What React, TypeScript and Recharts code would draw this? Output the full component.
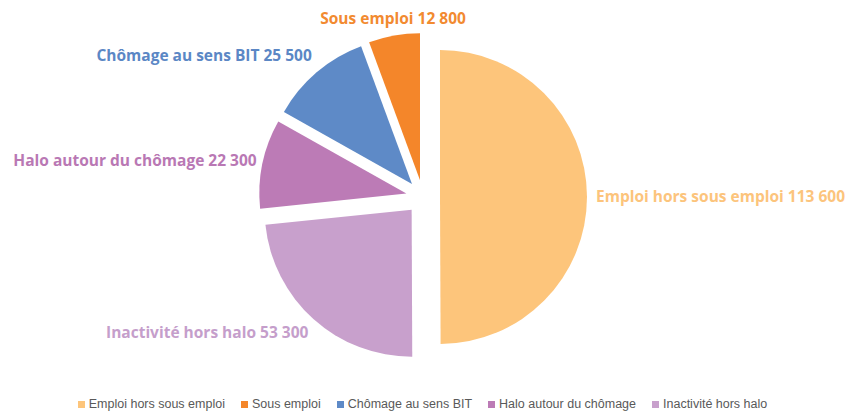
import React from 'react';
import { PieChart, Pie, Cell, Legend } from 'recharts';

// categories, values and colours
const names = ['Emploi hors sous emploi', 'Sous emploi', 'Chômage au sens BIT', 'Halo autour du chômage', 'Inactivité hors halo'];
const values = [113600, 12800, 25500, 22300, 53300];
const colors = ['#FDC57B', '#F4862A', '#5E8AC7', '#BC7BB6', '#C8A0CC'];
const labelColors = ['#FCC47C', '#F28A30', '#5B87C5', '#B978B4', '#C59ECB'];

const data = names.map((name, i) => ({ name, value: values[i] }));
const total = values.reduce((a, b) => a + b, 0);

const WIDTH = 845;
const HEIGHT = 412;
const CX = 423;
const CY = 197;
const RADIUS = 147;
const EXPLODE = 17;
const RADIAN = Math.PI / 180;

// small nudges for the data labels (Excel "best fit" placement)
const labelNudge = [[-3, -1], [1, 0], [3, -8], [6, -1], [3, 4]];

// first slice ends at 12 o'clock, the rest go on counter-clockwise
const START = 90 - (360 * values[0]) / total;

function midAngleOf(k: number) {
  let before = 0;
  for (let i = 0; i < k; i++) before += values[i];
  return START + (360 * (before + values[k] / 2)) / total;
}

const fmt = (v: number) => String(v).replace(/\B(?=(\d{3})+(?!\d))/g, ' ');

function makeLabel(k: number) {
  return (props: any) => {
    if (props.name !== names[k]) return null;
    const { cx, cy, midAngle, outerRadius } = props;
    const r = outerRadius + 12;
    const cos = Math.cos(-midAngle * RADIAN);
    const sin = Math.sin(-midAngle * RADIAN);
    const x = cx + r * cos + labelNudge[k][0];
    const y = cy + r * sin + labelNudge[k][1];
    const anchor = Math.abs(cos) < 0.3 ? 'middle' : cos > 0 ? 'start' : 'end';
    return (
      <text
        x={x}
        y={anchor === 'middle' ? y - 6 : y}
        fill={labelColors[k]}
        textAnchor={anchor}
        dominantBaseline="central"
        fontFamily="'Open Sans', sans-serif"
        fontWeight={700}
        fontSize={15.5}
      >
        {`${props.name} ${fmt(props.value)}`}
      </text>
    );
  };
}

function LegendBox() {
  return (
    <div style={{ display: 'flex', justifyContent: 'center', gap: 16, fontFamily: "'Liberation Sans', sans-serif", fontSize: 12.5, color: '#595959' }}>
      {names.map((n, i) => (
        <span key={n} style={{ display: 'flex', alignItems: 'center' }}>
          <span style={{ display: 'inline-block', width: 7, height: 7, background: colors[i], marginRight: 4 }} />
          {n}
        </span>
      ))}
    </div>
  );
}

export default function App() {
  return (
    <div style={{ position: 'absolute', left: 0, top: 0, width: WIDTH, height: HEIGHT, background: '#fff' }}>
      <PieChart width={WIDTH} height={HEIGHT} margin={{ top: 0, right: 0, bottom: 0, left: 0 }}>
        {names.map((n, k) => {
          const mid = midAngleOf(k);
          const dx = EXPLODE * Math.cos(mid * RADIAN);
          const dy = -EXPLODE * Math.sin(mid * RADIAN);
          return (
            <Pie
              key={n}
              data={data}
              dataKey="value"
              nameKey="name"
              cx={CX + dx}
              cy={CY + dy}
              outerRadius={RADIUS}
              startAngle={START}
              endAngle={START + 360}
              stroke="none"
              labelLine={false}
              label={makeLabel(k)}
              isAnimationActive={false}
            >
              {data.map((d, i) => (
                <Cell key={d.name} fill={i === k ? colors[i] : 'transparent'} />
              ))}
            </Pie>
          );
        })}
        <Legend verticalAlign="bottom" content={() => <LegendBox />} wrapperStyle={{ bottom: 1 }} />
      </PieChart>
    </div>
  );
}
